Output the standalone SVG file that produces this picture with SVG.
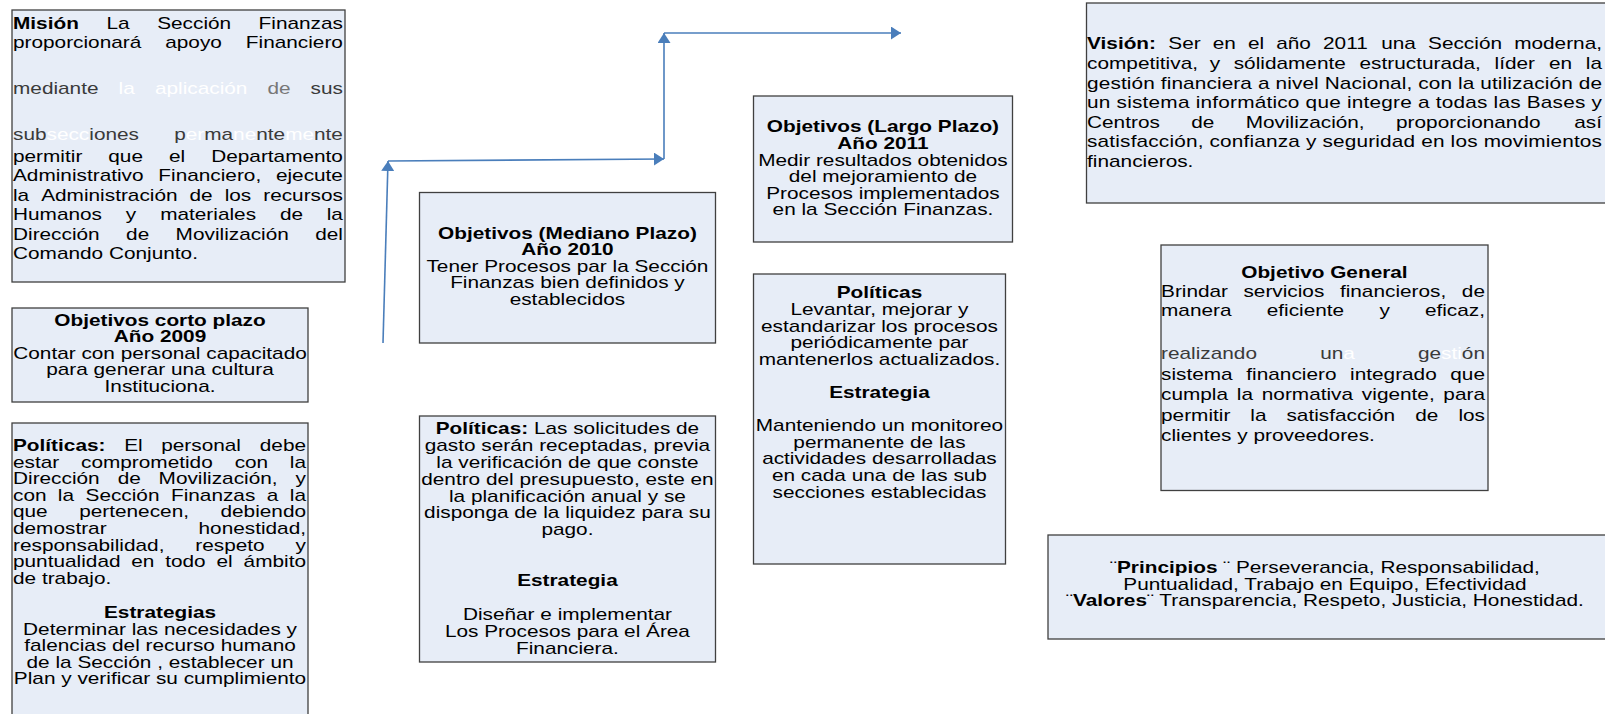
<svg xmlns="http://www.w3.org/2000/svg" width="1605" height="714" viewBox="0 0 1605 714">
<defs>
<style>
.box{fill:#e7edf7;stroke:#404040;stroke-width:1.3}
text{font-family:"Liberation Sans",Arial,sans-serif;font-size:16px;fill:#000}
.b{font-weight:bold}
.m{text-anchor:middle}
.e{text-anchor:end}
.w{fill:#fff}
.g{fill:#3a3a3a}
.lg{fill:#777}
.conn{fill:none;stroke:#4a7ebb;stroke-width:1.6}
</style>
<marker id="ah" markerUnits="userSpaceOnUse" markerWidth="10" markerHeight="13" viewBox="0 0 10 13" refX="10" refY="6.5" orient="auto"><path d="M0,0 L10,6.5 L0,13 z" fill="#4a7ebb"/></marker>
</defs>
<rect width="1605" height="714" fill="#fff"/>

<g id="connectors">
<path class="conn" d="M383,343 L388,161" marker-end="url(#ah)"/>
<path class="conn" d="M388,161 L664,159" marker-end="url(#ah)"/>
<path class="conn" d="M664,159 L664,33" marker-end="url(#ah)"/>
<path class="conn" d="M664,33 L901,33" marker-end="url(#ah)"/>
</g>

<g id="mision">
<rect class="box" x="12" y="10" width="333" height="272"/>
<g transform="scale(1.3 1)">
<text x="10" y="29" class="b">Misión</text>
<text x="81.9" y="29">La</text>
<text x="120.9" y="29">Sección</text>
<text x="263.8" y="29" class="e">Finanzas</text>
<text x="10" y="48.5">proporcionará</text>
<text x="127.1" y="48.5">apoyo</text>
<text x="263.8" y="48.5" class="e">Financiero</text>
<text x="10" y="94" class="g">mediante</text>
<text x="91.2" y="94" class="w">la</text>
<text x="119.2" y="94" class="w">aplicación</text>
<text x="205.7" y="94" class="lg">de</text>
<text x="263.8" y="94" class="e g">sus</text>
<text x="10" y="140" class="g">sub<tspan class="w">secc</tspan>iones</text>
<text x="263.8" y="140" class="e g">p<tspan class="w">er</tspan>ma<tspan class="w">ne</tspan>nte<tspan class="w">me</tspan>nte</text>
<text x="10" y="162">permitir</text>
<text x="83.3" y="162">que</text>
<text x="130" y="162">el</text>
<text x="263.8" y="162" class="e">Departamento</text>
<text x="10" y="181.5">Administrativo</text>
<text x="121.8" y="181.5">Financiero,</text>
<text x="263.8" y="181.5" class="e">ejecute</text>
<text x="10" y="201">la</text>
<text x="31.7" y="201">Administración</text>
<text x="145.8" y="201">de</text>
<text x="172.8" y="201">los</text>
<text x="263.8" y="201" class="e">recursos</text>
<text x="10" y="220.5">Humanos</text>
<text x="96.8" y="220.5">y</text>
<text x="123.2" y="220.5">materiales</text>
<text x="215.3" y="220.5">de</text>
<text x="263.8" y="220.5" class="e">la</text>
<text x="10" y="240">Dirección</text>
<text x="97" y="240">de</text>
<text x="135.1" y="240">Movilización</text>
<text x="263.8" y="240" class="e">del</text>
<text x="10" y="259.5">Comando Conjunto.</text>
</g>
</g>

<g id="corto-plazo">
<rect class="box" x="12" y="308" width="296" height="94"/>
<g transform="scale(1.3 1)">
<text x="123.1" y="326" class="m b">Objetivos corto plazo</text>
<text x="123.1" y="342.5" class="m b">Año 2009</text>
<text x="123.1" y="359" class="m">Contar con personal capacitado</text>
<text x="123.1" y="375.5" class="m">para generar una cultura</text>
<text x="123.1" y="392" class="m">Instituciona.</text>
</g>
</g>

<g id="politicas-corto">
<rect class="box" x="12" y="423" width="296" height="300"/>
<g transform="scale(1.3 1)">
<text x="10" y="451" class="b">Políticas:</text>
<text x="95.5" y="451">El</text>
<text x="124" y="451">personal</text>
<text x="235.4" y="451" class="e">debe</text>
<text x="10" y="467.6">estar</text>
<text x="62.3" y="467.6">comprometido</text>
<text x="180.5" y="467.6">con</text>
<text x="235.4" y="467.6" class="e">la</text>
<text x="10" y="484.2">Dirección</text>
<text x="90.5" y="484.2">de</text>
<text x="122" y="484.2">Movilización,</text>
<text x="235.4" y="484.2" class="e">y</text>
<text x="10" y="500.8">con</text>
<text x="44.5" y="500.8">la</text>
<text x="65.8" y="500.8">Sección</text>
<text x="131.5" y="500.8">Finanzas</text>
<text x="205.2" y="500.8">a</text>
<text x="235.4" y="500.8" class="e">la</text>
<text x="10" y="517.4">que</text>
<text x="60.9" y="517.4">pertenecen,</text>
<text x="235.4" y="517.4" class="e">debiendo</text>
<text x="10" y="534">demostrar</text>
<text x="235.4" y="534" class="e">honestidad,</text>
<text x="10" y="550.6">responsabilidad,</text>
<text x="150.2" y="550.6">respeto</text>
<text x="235.4" y="550.6" class="e">y</text>
<text x="10" y="567.2">puntualidad</text>
<text x="101" y="567.2">en</text>
<text x="127.1" y="567.2">todo</text>
<text x="166.5" y="567.2">el</text>
<text x="235.4" y="567.2" class="e">ámbito</text>
<text x="10" y="583.8">de trabajo.</text>
<text x="123.1" y="618.5" class="m b">Estrategias</text>
<text x="123.1" y="635" class="m">Determinar las necesidades y</text>
<text x="123.1" y="651.5" class="m">falencias del recurso humano</text>
<text x="123.1" y="668" class="m">de la Sección , establecer un</text>
<text x="123.1" y="684.5" class="m">Plan y verificar su cumplimiento</text>
</g>
</g>

<g id="mediano-plazo">
<rect class="box" x="419.5" y="192.5" width="296" height="150.5"/>
<g transform="scale(1.3 1)">
<text x="436.5" y="239" class="m b">Objetivos (Mediano Plazo)</text>
<text x="436.5" y="255.5" class="m b">Año 2010</text>
<text x="436.5" y="272" class="m">Tener Procesos par la Sección</text>
<text x="436.5" y="288.5" class="m">Finanzas bien definidos y</text>
<text x="436.5" y="305" class="m">establecidos</text>
</g>
</g>

<g id="politicas-mediano">
<rect class="box" x="419.5" y="416" width="296" height="246"/>
<g transform="scale(1.3 1)">
<text x="436.5" y="434.5" class="m"><tspan class="b">Políticas:</tspan> Las solicitudes de</text>
<text x="436.5" y="451.3" class="m">gasto serán receptadas, previa</text>
<text x="436.5" y="468.1" class="m">la verificación de que conste</text>
<text x="436.5" y="484.9" class="m">dentro del presupuesto, este en</text>
<text x="436.5" y="501.7" class="m">la planificación anual y se</text>
<text x="436.5" y="518.5" class="m">disponga de la liquidez para su</text>
<text x="436.5" y="535.3" class="m">pago.</text>
<text x="436.5" y="586" class="m b">Estrategia</text>
<text x="436.5" y="620" class="m">Diseñar e implementar</text>
<text x="436.5" y="636.8" class="m">Los Procesos para el Área</text>
<text x="436.5" y="653.6" class="m">Financiera.</text>
</g>
</g>

<g id="largo-plazo">
<rect class="box" x="753.5" y="96" width="259" height="146"/>
<g transform="scale(1.3 1)">
<text x="679.2" y="132.4" class="m b">Objetivos (Largo Plazo)</text>
<text x="679.2" y="149" class="m b">Año 2011</text>
<text x="679.2" y="165.6" class="m">Medir resultados obtenidos</text>
<text x="679.2" y="182.2" class="m">del mejoramiento de</text>
<text x="679.2" y="198.8" class="m">Procesos implementados</text>
<text x="679.2" y="215.4" class="m">en la Sección Finanzas.</text>
</g>
</g>

<g id="politicas-largo">
<rect class="box" x="753.5" y="274" width="252" height="290"/>
<g transform="scale(1.3 1)">
<text x="676.5" y="298.5" class="m b">Políticas</text>
<text x="676.5" y="315" class="m">Levantar, mejorar y</text>
<text x="676.5" y="331.6" class="m">estandarizar los procesos</text>
<text x="676.5" y="348.2" class="m">periódicamente par</text>
<text x="676.5" y="364.8" class="m">mantenerlos actualizados.</text>
<text x="676.5" y="398" class="m b">Estrategia</text>
<text x="676.5" y="431.2" class="m">Manteniendo un monitoreo</text>
<text x="676.5" y="447.8" class="m">permanente de las</text>
<text x="676.5" y="464.4" class="m">actividades desarrolladas</text>
<text x="676.5" y="481" class="m">en cada una de las sub</text>
<text x="676.5" y="497.6" class="m">secciones establecidas</text>
</g>
</g>

<g id="vision">
<rect class="box" x="1086.5" y="3" width="530" height="200"/>
<g transform="scale(1.3 1)">
<text x="836.2" y="49.5" class="b">Visión:</text>
<text x="898.7" y="49.5">Ser</text>
<text x="932.9" y="49.5">en</text>
<text x="960" y="49.5">el</text>
<text x="981.7" y="49.5">año</text>
<text x="1017.7" y="49.5">2011</text>
<text x="1062.5" y="49.5">una</text>
<text x="1098.5" y="49.5">Sección</text>
<text x="1232.3" y="49.5" class="e">moderna,</text>
<text x="836.2" y="69.1">competitiva,</text>
<text x="930.5" y="69.1">y</text>
<text x="949" y="69.1">sólidamente</text>
<text x="1045.8" y="69.1">estructurada,</text>
<text x="1149.7" y="69.1">líder</text>
<text x="1191.5" y="69.1">en</text>
<text x="1232.3" y="69.1" class="e">la</text>
<text x="836.2" y="88.7" textLength="396.1" lengthAdjust="spacing">gestión financiera a nivel Nacional, con la utilización de</text>
<text x="836.2" y="108.3" textLength="396.1" lengthAdjust="spacing">un sistema informático que integre a todas las Bases y</text>
<text x="836.2" y="127.9">Centros</text>
<text x="916.3" y="127.9">de</text>
<text x="958.2" y="127.9">Movilización,</text>
<text x="1073.9" y="127.9">proporcionando</text>
<text x="1232.3" y="127.9" class="e">así</text>
<text x="836.2" y="147.5" textLength="396.1" lengthAdjust="spacing">satisfacción, confianza y seguridad en los movimientos</text>
<text x="836.2" y="167.1">financieros.</text>
</g>
</g>

<g id="objetivo-general">
<rect class="box" x="1161" y="245" width="327" height="245.5"/>
<g transform="scale(1.3 1)">
<text x="1018.8" y="278.5" class="m b">Objetivo General</text>
<text x="893.1" y="297">Brindar</text>
<text x="956.5" y="297">servicios</text>
<text x="1030.7" y="297">financieros,</text>
<text x="1142.3" y="297" class="e">de</text>
<text x="893.1" y="316.5">manera</text>
<text x="974.4" y="316.5">eficiente</text>
<text x="1061.1" y="316.5">y</text>
<text x="1142.3" y="316.5" class="e">eficaz,</text>
<text x="893.1" y="359.5" class="g">realizando</text>
<text x="1015.5" y="359.5" class="g">un<tspan class="w">a</tspan></text>
<text x="1142.3" y="359.5" class="e g">ge<tspan class="w">sti</tspan>ón</text>
<text x="893.1" y="380">sistema</text>
<text x="958.7" y="380">financiero</text>
<text x="1038.5" y="380">integrado</text>
<text x="1142.3" y="380" class="e">que</text>
<text x="893.1" y="400.5">cumpla</text>
<text x="951.4" y="400.5">la</text>
<text x="970.6" y="400.5">normativa</text>
<text x="1047.6" y="400.5">vigente,</text>
<text x="1142.3" y="400.5" class="e">para</text>
<text x="893.1" y="421">permitir</text>
<text x="961.8" y="421">la</text>
<text x="989.6" y="421">satisfacción</text>
<text x="1088.6" y="421">de</text>
<text x="1142.3" y="421" class="e">los</text>
<text x="893.1" y="441.5">clientes y proveedores.</text>
</g>
</g>

<g id="principios-valores">
<rect class="box" x="1048" y="535" width="570" height="104"/>
<g transform="scale(1.3 1)">
<text x="1019.2" y="573.5" class="m">¨<tspan class="b">Principios</tspan> ¨ Perseverancia, Responsabilidad,</text>
<text x="1019.2" y="590" class="m">Puntualidad, Trabajo en Equipo, Efectividad</text>
<text x="1019.2" y="606.5" class="m">¨<tspan class="b">Valores</tspan>¨ Transparencia, Respeto, Justicia, Honestidad.</text>
</g>
</g>
</svg>
